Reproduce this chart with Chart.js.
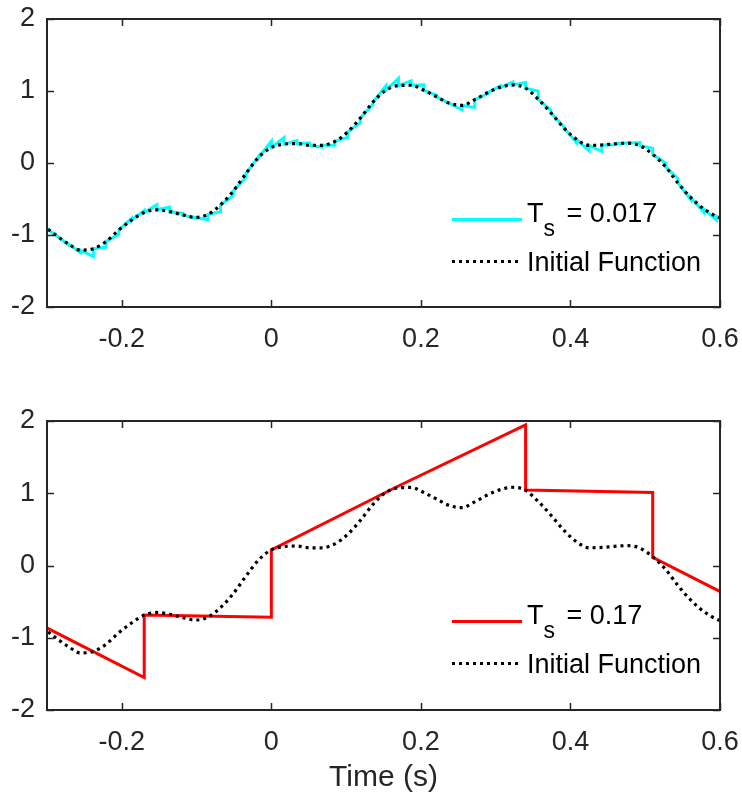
<!DOCTYPE html>
<html>
<head>
<meta charset="utf-8">
<script src="https://cdn.jsdelivr.net/npm/chart.js@4.4.1/dist/chart.umd.min.js"></script>
<style>
  html, body { margin: 0; padding: 0; background: #fff; }
  #page { position: relative; width: 742px; height: 798px; overflow: hidden;
          font-family: "Liberation Sans", Arial, Helvetica, sans-serif; color: #000; }
  canvas { position: absolute; left: 0; }
  .sw { position: absolute; left: 452px; height: 3px; }
  .sw.solid { width: 70px; }
  .sw.dots { width: 67px; background: repeating-linear-gradient(90deg, #000 0 3px, transparent 3px 7px); }
  .lg { position: absolute; left: 527px; font-size: 27px; line-height: 27px; white-space: nowrap; }
  .lg span { font-size: 23px; line-height: 0; position: relative; top: 14px; margin-right: 4px; }
</style>
</head>
<body>
<div id="page">
  <canvas id="chart-top" width="742" height="390" style="top:0"></canvas>
  <canvas id="chart-bottom" width="742" height="408" style="top:390px"></canvas>

  <!-- legends (MATLAB style, no box) -->
  <div class="sw solid" style="top:217.5px;background:#00ffff"></div>
  <div class="lg" style="top:200px">T<span>s</span> = 0.017</div>
  <div class="sw dots" style="top:259.5px"></div>
  <div class="lg" style="top:249px">Initial Function</div>

  <div class="sw solid" style="top:619.5px;background:#ff0000"></div>
  <div class="lg" style="top:602px">T<span>s</span> = 0.17</div>
  <div class="sw dots" style="top:661.5px"></div>
  <div class="lg" style="top:651px">Initial Function</div>
</div>

<script>
const FONT = "'Liberation Sans', Arial, Helvetica, sans-serif";
const AXIS_COLOR = "#262626";

const xTicks = [-0.2, 0, 0.2, 0.4, 0.6];
const yTicks = [-2, -1, 0, 1, 2];

// sample instants, Ts = 0.017
const holdT = [
  -0.306, -0.289, -0.272, -0.255, -0.238, -0.221, -0.204, -0.187, -0.170, -0.153,
  -0.136, -0.119, -0.102, -0.085, -0.068, -0.051, -0.034, -0.017, 0, 0.017,
  0.034, 0.051, 0.068, 0.085, 0.102, 0.119, 0.136, 0.153, 0.170, 0.187,
  0.204, 0.221, 0.238, 0.255, 0.272, 0.289, 0.306, 0.323, 0.340, 0.357,
  0.374, 0.391, 0.408, 0.425, 0.442, 0.459, 0.476, 0.493, 0.510, 0.527,
  0.544, 0.561, 0.578, 0.595, 0.612
];

// initial function read at the sample instants
const initV = [
  -0.86, -0.995, -1.12, -1.21, -1.19, -1.09, -0.93, -0.795, -0.687, -0.65,
  -0.675, -0.72, -0.755, -0.715, -0.583, -0.39, -0.148, 0.077, 0.215, 0.262,
  0.27, 0.245, 0.245, 0.30, 0.43, 0.624, 0.847, 1.01, 1.075, 1.08,
  1.01, 0.92, 0.83, 0.80, 0.88, 0.975, 1.05, 1.083, 1.04, 0.885,
  0.695, 0.49, 0.33, 0.245, 0.25, 0.265, 0.275, 0.24, 0.12, -0.05,
  -0.28, -0.48, -0.635, -0.74, -0.80
];

// Ts = 0.017 reconstruction: value at start / end of each hold segment
const cyanStart = initV.slice(0, -1);
const cyanEnd = [
  -1.00, -1.13, -1.245, -1.30, -1.17, -0.99, -0.77, -0.66, -0.579, -0.613,
  -0.70, -0.765, -0.79, -0.675, -0.451, -0.197, 0.094, 0.302, 0.353, 0.309,
  0.278, 0.22, 0.245, 0.355, 0.56, 0.818, 1.07, 1.173, 1.14, 1.085,
  0.94, 0.83, 0.74, 0.77, 0.96, 1.07, 1.125, 1.116, 0.997, 0.73,
  0.505, 0.285, 0.17, 0.16, 0.255, 0.28, 0.285, 0.205, 0.0, -0.22,
  -0.51, -0.68, -0.79, -0.86
];

// Ts = 0.17 reconstruction
const redHoldT = [-0.34, -0.17, 0, 0.17, 0.34, 0.51, 0.68];
const redStart = [-0.655, -0.685, 0.215, 1.10, 1.045, 0.113];
const redEnd = [-1.55, -0.715, 1.10, 1.945, 1.01, -0.78];

function holdPoints(times, starts, ends) {
  const pts = [];
  starts.forEach((v, i) => {
    pts.push({ x: times[i], y: v });
    pts.push({ x: times[i + 1], y: ends[i] });
  });
  return pts;
}

const initPoints = holdT.map((t, i) => ({ x: t, y: initV[i] }));

// box + inward tick marks on all four sides
const TICK = 7;
const matlabFrame = {
  id: "matlabFrame",
  afterDatasetsDraw(chart) {
    const { ctx, chartArea: a, scales } = chart;
    ctx.save();
    ctx.strokeStyle = AXIS_COLOR;
    ctx.lineWidth = 1.5;
    ctx.beginPath();
    for (const t of scales.x.ticks) {
      const px = Math.round(scales.x.getPixelForValue(t.value)) + 0.5;
      ctx.moveTo(px, a.bottom); ctx.lineTo(px, a.bottom - TICK);
      ctx.moveTo(px, a.top); ctx.lineTo(px, a.top + TICK);
    }
    for (const t of scales.y.ticks) {
      const py = Math.round(scales.y.getPixelForValue(t.value)) + 0.5;
      ctx.moveTo(a.left, py); ctx.lineTo(a.left + TICK, py);
      ctx.moveTo(a.right, py); ctx.lineTo(a.right - TICK, py);
    }
    ctx.stroke();
    ctx.lineWidth = 2;
    ctx.strokeRect(a.left, a.top, a.right - a.left, a.bottom - a.top);
    ctx.restore();
  },
};

function makeOptions(padTop, xHeight, title) {
  return {
    responsive: false,
    animation: false,
    devicePixelRatio: 1,
    events: [],
    layout: { padding: { top: padTop, right: 22, left: 0, bottom: 0 } },
    plugins: { legend: { display: false }, tooltip: { enabled: false } },
    scales: {
      x: {
        type: "linear",
        min: -0.3,
        max: 0.6,
        afterBuildTicks: (s) => { s.ticks = xTicks.map((value) => ({ value })); },
        afterFit: (s) => {
          s.height = xHeight;
          s.paddingLeft = 0;
          s.paddingRight = 0;
        },
        grid: { display: false, drawTicks: false },
        border: { display: false },
        ticks: {
          color: AXIS_COLOR,
          font: { family: FONT, size: 27 },
          padding: 16,
          maxRotation: 0,
          autoSkip: false,
          callback: (v) => String(v),
        },
        title: title
          ? { display: true, text: title, color: AXIS_COLOR,
              font: { family: FONT, size: 30 }, padding: { top: 0, bottom: 2 } }
          : { display: false },
      },
      y: {
        min: -2,
        max: 2,
        afterBuildTicks: (s) => { s.ticks = yTicks.map((value) => ({ value })); },
        afterFit: (s) => {
          s.width = 47;
          s.paddingTop = 0;
          s.paddingBottom = 0;
        },
        grid: { display: false, drawTicks: false },
        border: { display: false },
        ticks: {
          color: AXIS_COLOR,
          font: { family: FONT, size: 27 },
          padding: 12,
          callback: (v) => String(v),
        },
      },
    },
  };
}

const dotted = {
  label: "Initial Function",
  data: initPoints,
  borderColor: "#000000",
  borderWidth: 3.2,
  borderDash: [3, 4],
  borderCapStyle: "butt",
  cubicInterpolationMode: "monotone",
  pointRadius: 0,
  clip: 0,
  order: 1,
};

new Chart(document.getElementById("chart-top"), {
  type: "line",
  data: {
    datasets: [
      {
        label: "Ts = 0.017",
        data: holdPoints(holdT, cyanStart, cyanEnd),
        borderColor: "#00ffff",
        borderWidth: 3,
        tension: 0,
        pointRadius: 0,
        clip: 0,
        order: 2,
      },
      { ...dotted },
    ],
  },
  options: makeOptions(19, 83, null),
  plugins: [matlabFrame],
});

new Chart(document.getElementById("chart-bottom"), {
  type: "line",
  data: {
    datasets: [
      {
        label: "Ts = 0.17",
        data: holdPoints(redHoldT, redStart, redEnd),
        borderColor: "#ff0000",
        borderWidth: 3,
        tension: 0,
        pointRadius: 0,
        clip: 0,
        order: 2,
      },
      { ...dotted },
    ],
  },
  options: makeOptions(31, 88, "Time (s)"),
  plugins: [matlabFrame],
});
</script>
</body>
</html>
